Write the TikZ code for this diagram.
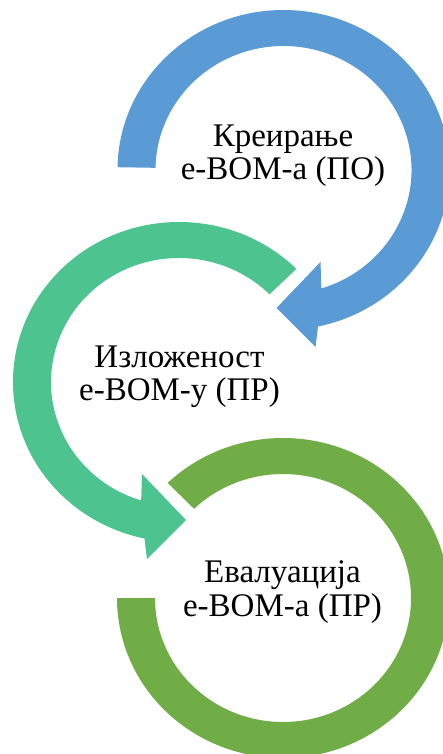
\documentclass[tikz,border=0pt]{standalone}
\usepackage{fontspec}
\setmainfont{Liberation Serif}
\definecolor{ringblue}{HTML}{5B9BD5}
\definecolor{ringteal}{HTML}{4DC48F}
\definecolor{ringgreen}{HTML}{70AD47}
\tikzset{steptext/.style={align=center, inner sep=0pt, font=\fontsize{33}{33.3}\selectfont}}

\begin{document}
\begin{tikzpicture}[x=1pt, y=-1pt]
  \useasboundingbox (0,0) rectangle (443,754);
  \clip (0,0) rectangle (443,754);
  \coordinate (c1) at (283.5,170);
  \coordinate (c2) at (179,382);
  \coordinate (c3) at (283,598);
  \fill[ringblue] (c1) ++(-179:166 and 160) arc[start angle=-179, end angle=78, x radius=166, y radius=160]
    -- ([shift={(32,177)}]c1) -- ([shift={(-7,138)}]c1) -- ([shift={(37,92)}]c1)
    -- ([shift={(72.8:128 and 124)}]c1) arc[start angle=72.8, end angle=-179, x radius=128, y radius=124] -- cycle;
  \fill[ringteal] (c2) ++(-45:166 and 160) arc[start angle=-45, end angle=-258, x radius=166, y radius=160]
    -- ([shift={(-32,177)}]c2) -- ([shift={(7,138)}]c2) -- ([shift={(-37,92)}]c2)
    -- ([shift={(-252.8:128 and 124)}]c2) arc[start angle=-252.8, end angle=-45, x radius=128, y radius=124] -- cycle;
  \fill[ringgreen] (c3) ++(-134:166 and 160) arc[start angle=-134, end angle=180, x radius=166, y radius=160]
    -- ([shift={(180:128 and 124)}]c3) arc[start angle=180, end angle=-134, x radius=128, y radius=124] -- cycle;
  \node[steptext] (t1) at (283,156) {Креирање\\e-BOM-а (ПО)};
  \node[steptext] (t2) at (179.5,377) {Изложеност\\e-BOM-у (ПР)};
  \node[steptext] (t3) at (282.5,592) {Евалуација\\e-BOM-а (ПР)};
\end{tikzpicture}
\end{document}
